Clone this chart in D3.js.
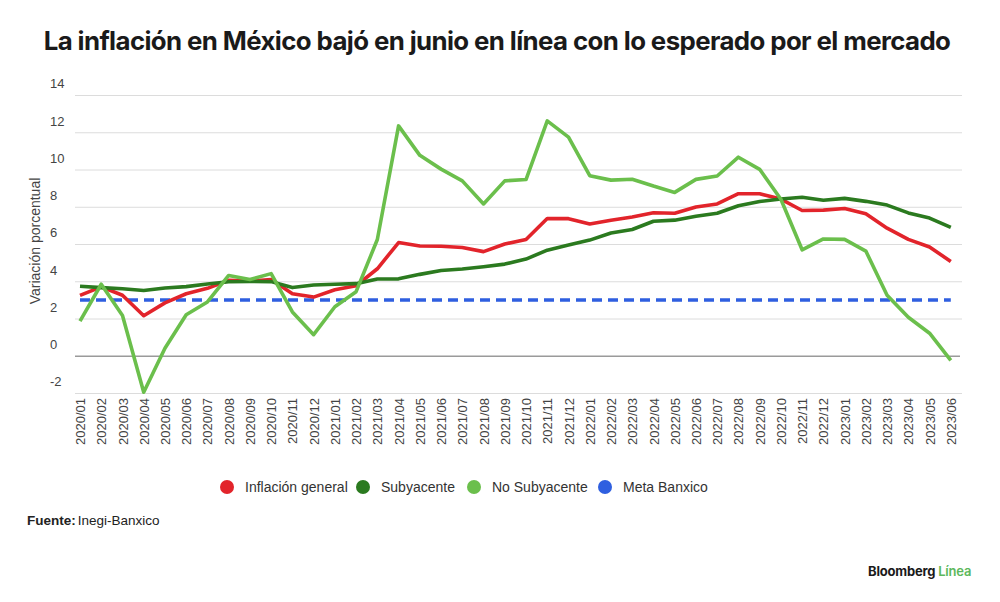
<!DOCTYPE html>
<html>
<head>
<meta charset="utf-8">
<script src="https://cdn.jsdelivr.net/npm/d3@7"></script>
<style>
  body { margin: 0; background: #fff; }
  svg { display: block; font-family: "Liberation Sans", Arial, sans-serif; }
  .grid line { stroke: #dcdcdc; stroke-width: 1; }
  .grid path { display: none; }
  .tick text { fill: #444; font-size: 13px; font-family: "Liberation Sans", Arial, sans-serif; }
  .x-axis path, .x-axis line { display: none; }
</style>
</head>
<body>
<svg id="chart" width="1000" height="602"></svg>
<script>
// Months 2020/01 .. 2023/06
const months = [
  "2020/01","2020/02","2020/03","2020/04","2020/05","2020/06","2020/07","2020/08","2020/09","2020/10","2020/11","2020/12",
  "2021/01","2021/02","2021/03","2021/04","2021/05","2021/06","2021/07","2021/08","2021/09","2021/10","2021/11","2021/12",
  "2022/01","2022/02","2022/03","2022/04","2022/05","2022/06","2022/07","2022/08","2022/09","2022/10","2022/11","2022/12",
  "2023/01","2023/02","2023/03","2023/04","2023/05","2023/06"
];

const general = [
  3.24, 3.70, 3.25, 2.15, 2.84, 3.33, 3.62, 4.05, 4.01, 4.09, 3.33, 3.15,
  3.54, 3.76, 4.67, 6.08, 5.89, 5.88, 5.81, 5.59, 6.00, 6.24, 7.37, 7.36,
  7.07, 7.28, 7.45, 7.68, 7.65, 7.99, 8.15, 8.70, 8.70, 8.41, 7.80, 7.82,
  7.91, 7.62, 6.85, 6.25, 5.84, 5.06
];

const subyacente = [
  3.73, 3.66, 3.60, 3.50, 3.64, 3.71, 3.85, 3.97, 3.99, 3.98, 3.66, 3.80,
  3.84, 3.87, 4.12, 4.13, 4.37, 4.58, 4.66, 4.78, 4.92, 5.19, 5.67, 5.94,
  6.21, 6.59, 6.78, 7.22, 7.28, 7.49, 7.65, 8.05, 8.28, 8.42, 8.51, 8.35,
  8.45, 8.29, 8.09, 7.67, 7.39, 6.89
];

const noSubyacente = [
  1.86, 3.84, 2.16, -1.96, 0.40, 2.20, 2.89, 4.31, 4.09, 4.41, 2.35, 1.13,
  2.63, 3.44, 6.24, 12.34, 10.76, 10.02, 9.39, 8.15, 9.39, 9.46, 12.61, 11.74,
  9.67, 9.43, 9.48, 9.11, 8.77, 9.47, 9.65, 10.66, 10.01, 8.40, 5.69, 6.27,
  6.25, 5.62, 3.25, 2.07, 1.21, -0.25
];

const metaBanxico = months.map(() => 3);

const yTicks = [-2, 0, 2, 4, 6, 8, 10, 12, 14];

const series = [
  { name: "Inflación general", values: general, color: "#e2242b" },
  { name: "Subyacente", values: subyacente, color: "#2b7a1f" },
  { name: "No Subyacente", values: noSubyacente, color: "#6bbf4c" },
  { name: "Meta Banxico", values: metaBanxico, color: "#2f5fe0", dashed: true }
];

const svg = d3.select("#chart");

// Scales
const x = d3.scalePoint().domain(months).range([80, 950.8]);
const y = d3.scaleLinear().domain([-2, 14]).range([393, 95]);
const gridLeft = 75, gridRight = 962;

// Title
svg.append("text")
  .attr("x", 497)
  .attr("y", 50)
  .attr("text-anchor", "middle")
  .attr("font-family", "Inter, 'Liberation Sans', sans-serif")
  .attr("font-size", 25.8)
  .attr("font-weight", 700)
  .attr("letter-spacing", -0.6)
  .attr("fill", "#1a1a1a")
  .text("La inflación en México bajó en junio en línea con lo esperado por el mercado");

// Horizontal grid + y labels (plain hyphen for negatives, as in the original)
const yAxis = svg.append("g")
  .attr("class", "grid")
  .attr("transform", `translate(${gridRight},0)`)
  .call(d3.axisLeft(y).tickValues(yTicks).tickSize(gridRight - gridLeft).tickFormat(d => String(d)));

yAxis.selectAll(".tick text")
  .attr("text-anchor", "start")
  .attr("x", 50 - gridRight)
  .attr("dy", "-0.55em");

yAxis.selectAll(".tick")
  .filter(d => d === 0)
  .select("line")
  .attr("x1", -2)
  .style("stroke", "#9a9a9a")
  .style("stroke-width", 1.6);

// Y axis title
svg.append("text")
  .attr("transform", "translate(40,241) rotate(-90)")
  .attr("text-anchor", "middle")
  .attr("font-size", 14)
  .attr("fill", "#444")
  .text("Variación porcentual");

// X axis labels
const xAxis = svg.append("g")
  .attr("class", "x-axis")
  .attr("transform", `translate(0,${y(-2)})`)
  .call(d3.axisBottom(x).tickSize(0));

xAxis.selectAll(".tick text")
  .attr("transform", "rotate(-90)")
  .attr("text-anchor", "end")
  .attr("x", -5)
  .attr("y", 0)
  .attr("dy", "0.35em");

// Lines
const line = d3.line()
  .x((d, i) => x(months[i]))
  .y(d => y(d));

svg.append("g")
  .selectAll("path")
  .data([series[3], series[0], series[1], series[2]])
  .join("path")
  .attr("fill", "none")
  .attr("stroke", d => d.color)
  .attr("stroke-width", d => d.dashed ? 3.5 : 3.6)
  .attr("stroke-dasharray", d => d.dashed ? "10 6" : null)
  .attr("stroke-linejoin", "round")
  .attr("d", d => line(d.values));

// Legend
const legendX = [227, 363, 474, 605];
const legend = svg.append("g").attr("transform", "translate(0,487)");
const item = legend.selectAll("g")
  .data(series)
  .join("g")
  .attr("transform", (d, i) => `translate(${legendX[i]},0)`);

item.append("circle")
  .attr("r", 7)
  .attr("fill", d => d.color);

item.append("text")
  .attr("x", 18)
  .attr("dy", "0.35em")
  .attr("font-size", 14)
  .attr("fill", "#333")
  .text(d => d.name);

// Source
const src = svg.append("text")
  .attr("x", 27)
  .attr("y", 525)
  .attr("font-size", 13.5)
  .attr("fill", "#222");
src.append("tspan").attr("font-weight", 700).text("Fuente:");
src.append("tspan").attr("dx", 2).text("Inegi-Banxico");

// Logo
const logo = svg.append("text")
  .attr("x", 868)
  .attr("y", 576)
  .attr("font-family", "Inter, 'Liberation Sans', sans-serif")
  .attr("font-size", 13)
  .attr("font-weight", 700)
  .attr("letter-spacing", -0.2)
  .attr("fill", "#1a1a1a");
logo.append("tspan").text("Bloomberg ");
logo.append("tspan").attr("fill", "#5cb85c").attr("font-weight", 600).text("Línea");
</script>
</body>
</html>
